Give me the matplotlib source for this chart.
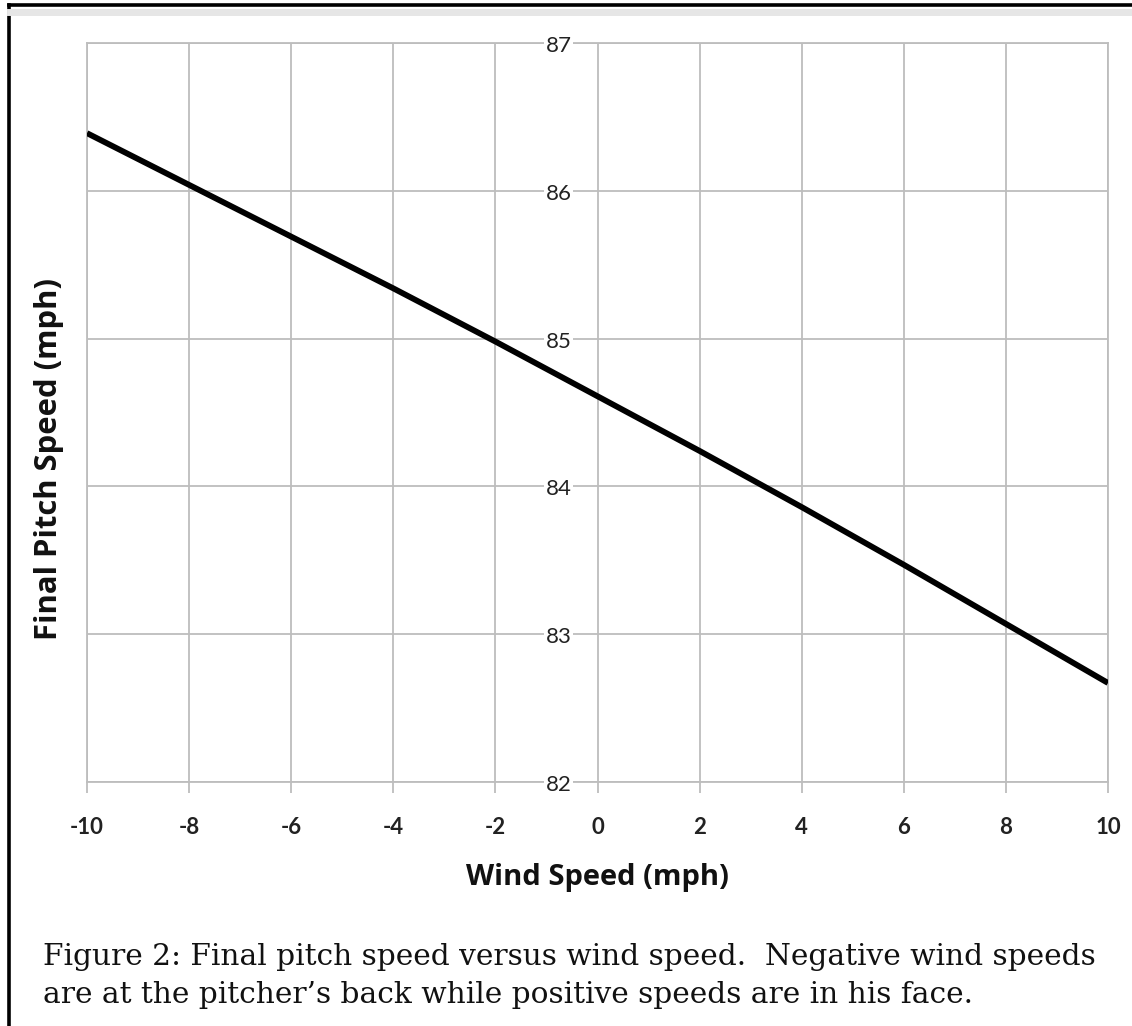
import matplotlib

matplotlib.use("Agg")
import matplotlib.pyplot as plt
from matplotlib.lines import Line2D
from matplotlib.transforms import offset_copy

# values
wind_speed = [-10, -8, -6, -4, -2, 0, 2, 4, 6, 8, 10]
pitch_speed = [86.39, 86.04, 85.69, 85.34, 84.98, 84.61, 84.24, 83.86, 83.47, 83.07, 82.67]
x_ticks = [-10, -8, -6, -4, -2, 0, 2, 4, 6, 8, 10]
y_ticks = [82, 83, 84, 85, 86, 87]
caption = ("Figure 2: Final pitch speed versus wind speed.  Negative wind speeds\n"
           "are at the pitcher\u2019s back while positive speeds are in his face.")

GRID = "#bdbdbd"
W, H = 1132, 1026

fig = plt.figure(figsize=(W / 100, H / 100), dpi=100)
ax = fig.add_axes([87 / W, 1 - 782 / H, (1108 - 87) / W, (782 - 43) / H])

ax.plot(wind_speed, pitch_speed, color="black", linewidth=4.2, solid_capstyle="butt",
        solid_joinstyle="round", zorder=3)

ax.set_xlim(-10, 10)
ax.set_ylim(82, 87)
ax.set_xticks(x_ticks)
ax.set_xticklabels([str(v) for v in x_ticks], fontfamily="Lato", fontweight="bold",
                   fontsize=16, color="#222222")
ax.set_yticks(y_ticks)
ax.tick_params(axis="x", length=8, width=1.3, color=GRID, pad=17)
ax.tick_params(axis="y", length=0, labelleft=False)
ax.grid(True, color=GRID, linewidth=1.3)
for s in ax.spines.values():
    s.set_color(GRID)
    s.set_linewidth(1.3)

# y tick labels sit just left of the x=0 gridline, on a white patch
lbl_tr = offset_copy(ax.transData, fig=fig, x=-26, y=-3, units="dots")
for v in y_ticks:
    ax.text(0, v, str(v), transform=lbl_tr, ha="right", va="center", fontsize=16,
            fontfamily="Lato", color="#222222", zorder=4, clip_on=False,
            bbox=dict(facecolor="white", edgecolor="none", pad=1.0))

fig.text(597 / W, 1 - 877 / H, "Wind Speed (mph)", ha="center", va="center",
         fontsize=21, fontweight="bold", fontfamily="Open Sans", color="#111111")
fig.text(49 / W, 1 - 459 / H, "Final Pitch Speed (mph)", ha="center", va="center",
         rotation=90, fontsize=22.3, fontweight="bold", fontfamily="Open Sans", color="#111111")

fig.text(43 / W, 1 - 976 / H, caption, ha="left", va="center", fontsize=21.3,
         fontfamily="DejaVu Serif", color="#111111", linespacing=1.45)

# page frame (runs off the right and bottom edges)
fig.add_artist(Line2D([8.5 / W, 8.5 / W], [0, 1 - 5 / H], transform=fig.transFigure,
                      color="black", linewidth=2.6))
fig.add_artist(Line2D([8.5 / W, 1], [1 - 5 / H, 1 - 5 / H], transform=fig.transFigure,
                      color="black", linewidth=2.6))
fig.add_artist(Line2D([10 / W, 1], [1 - 12 / H, 1 - 12 / H], transform=fig.transFigure,
                      color="#e6e6e6", linewidth=5))

fig.savefig("out.png", dpi=100)
